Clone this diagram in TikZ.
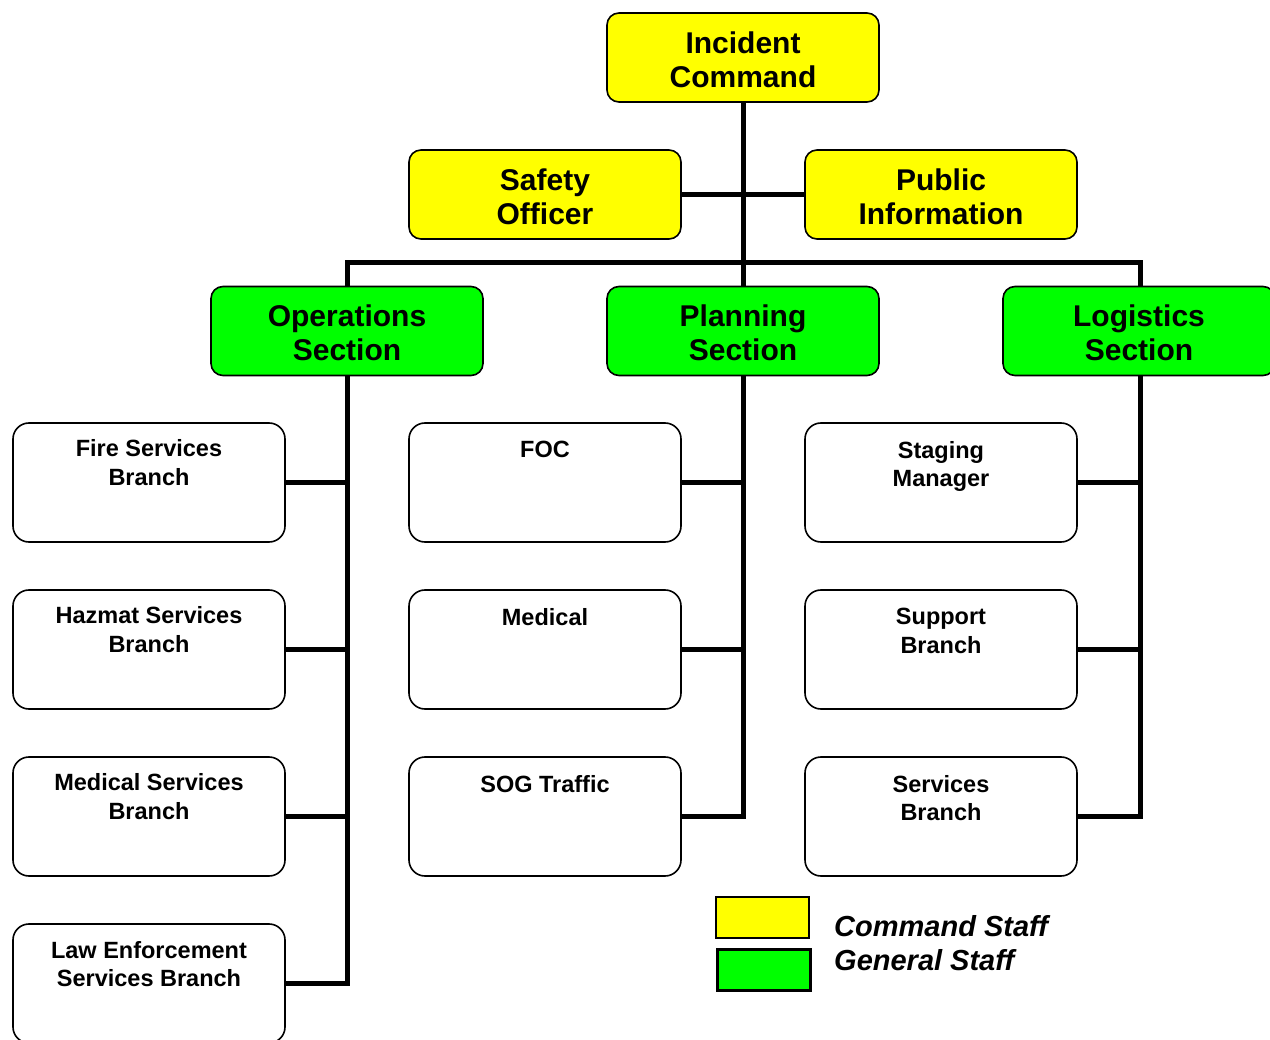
\documentclass[tikz,border=0pt]{standalone}
\usepackage{fontspec}
\setmainfont{Liberation Sans}
\definecolor{cmdyellow}{RGB}{255,255,0}
\definecolor{gengreen}{RGB}{0,255,0}
\begin{document}
\begin{tikzpicture}[x=1pt,y=-1pt,
  cbox/.style={draw=black, line width=1.6pt, rounded corners=12pt, minimum width=272pt, minimum height=89pt, inner sep=0pt},
  ctext/.style={inner sep=0pt, align=center, font=\fontsize{30}{34.5}\selectfont\bfseries},
  cmd/.style={cbox, fill=cmdyellow},
  gen/.style={cbox, fill=gengreen},
  wbox/.style={draw=black, line width=1.6pt, rounded corners=16pt, minimum width=272pt, minimum height=119pt, inner sep=0pt, fill=white},
  wtext/.style={anchor=north, inner sep=0pt, align=center, font=\fontsize{23.5}{28.5}\selectfont\bfseries},
  conn/.style={line width=5pt, draw=black},
  legbox/.style={draw=black, line width=2.2pt, minimum width=93pt, minimum height=41pt, inner sep=0pt},
  legtext/.style={anchor=base west, inner sep=0pt, font=\fontsize{29}{34}\selectfont\bfseries\itshape}
]
\useasboundingbox (0,0) rectangle (1270,1040);
\fill[white] (0,0) rectangle (1270,1040);

\coordinate (bus) at (743,263);
\coordinate (logtop) at (1140,286);
\coordinate (logc) at (1140,376);

% command nodes
\node[cmd] (ic) at (743,57.5) {};
\node[cmd] (so) at (545,194.5) {};
\node[cmd] (pi) at (941,194.5) {};
\node[ctext] (ict) at (743,60) {Incident\\Command};
\node[ctext] (sot) at (545,197) {Safety\\Officer};
\node[ctext] (pit) at (941,197) {Public\\Information};

% general staff
\node[gen] (ops) at (347,331) {};
\node[gen] (plan) at (743,331) {};
\node[gen] (log) at (1139,331) {};
\node[ctext] (opst) at (347,333) {Operations\\Section};
\node[ctext] (plant) at (743,333) {Planning\\Section};
\node[ctext] (logt) at (1139,333) {Logistics\\Section};

% white boxes
\node[wbox] (f1) at (149,482.5) {};
\node[wbox] (f2) at (149,649.5) {};
\node[wbox] (f3) at (149,816.5) {};
\node[wbox] (f4) at (149,983.5) {};
\node[wbox] (p1) at (545,482.5) {};
\node[wbox] (p2) at (545,649.5) {};
\node[wbox] (p3) at (545,816.5) {};
\node[wbox] (l1) at (941,482.5) {};
\node[wbox] (l2) at (941,649.5) {};
\node[wbox] (l3) at (941,816.5) {};

\node[wtext] (f1t) at (149,439.5) {Fire Services\\Branch};
\node[wtext] (f2t) at (149,606.5) {Hazmat Services\\Branch};
\node[wtext] (f3t) at (149,773.5) {Medical Services\\Branch};
\node[wtext] (f4t) at (149,941) {Law Enforcement\\Services Branch};
\node[wtext] (p1t) at (545,441) {FOC};
\node[wtext] (p2t) at (545,608) {Medical};
\node[wtext] (p3t) at (545,775) {SOG Traffic};
\node[wtext] (l1t) at (941,441) {Staging\\Manager};
\node[wtext] (l2t) at (941,608) {Support\\Branch};
\node[wtext] (l3t) at (941,775) {Services\\Branch};

% connectors
\draw[conn] (ic.south) -- (plan.north);
\draw[conn] (so.east) -- (pi.west);
\draw[conn] (ops.north) |- (bus) -| (logtop);
\draw[conn] (ops.south) |- (f1.east);
\draw[conn] (ops.south) |- (f2.east);
\draw[conn] (ops.south) |- (f3.east);
\draw[conn] (ops.south) |- (f4.east);
\draw[conn] (plan.south) |- (p1.east);
\draw[conn] (plan.south) |- (p2.east);
\draw[conn] (plan.south) |- (p3.east);
\draw[conn] (logc) |- (l1.east);
\draw[conn] (logc) |- (l2.east);
\draw[conn] (logc) |- (l3.east);

% legend
\node[legbox, fill=cmdyellow] (ly) at (762.5,917.5) {};
\node[legbox, fill=gengreen] (lg) at (764,970) {};
\node[legtext] (lyt) at (834,936) {Command Staff};
\node[legtext] (lgt) at (834,970) {General Staff};
\end{tikzpicture}
\end{document}
